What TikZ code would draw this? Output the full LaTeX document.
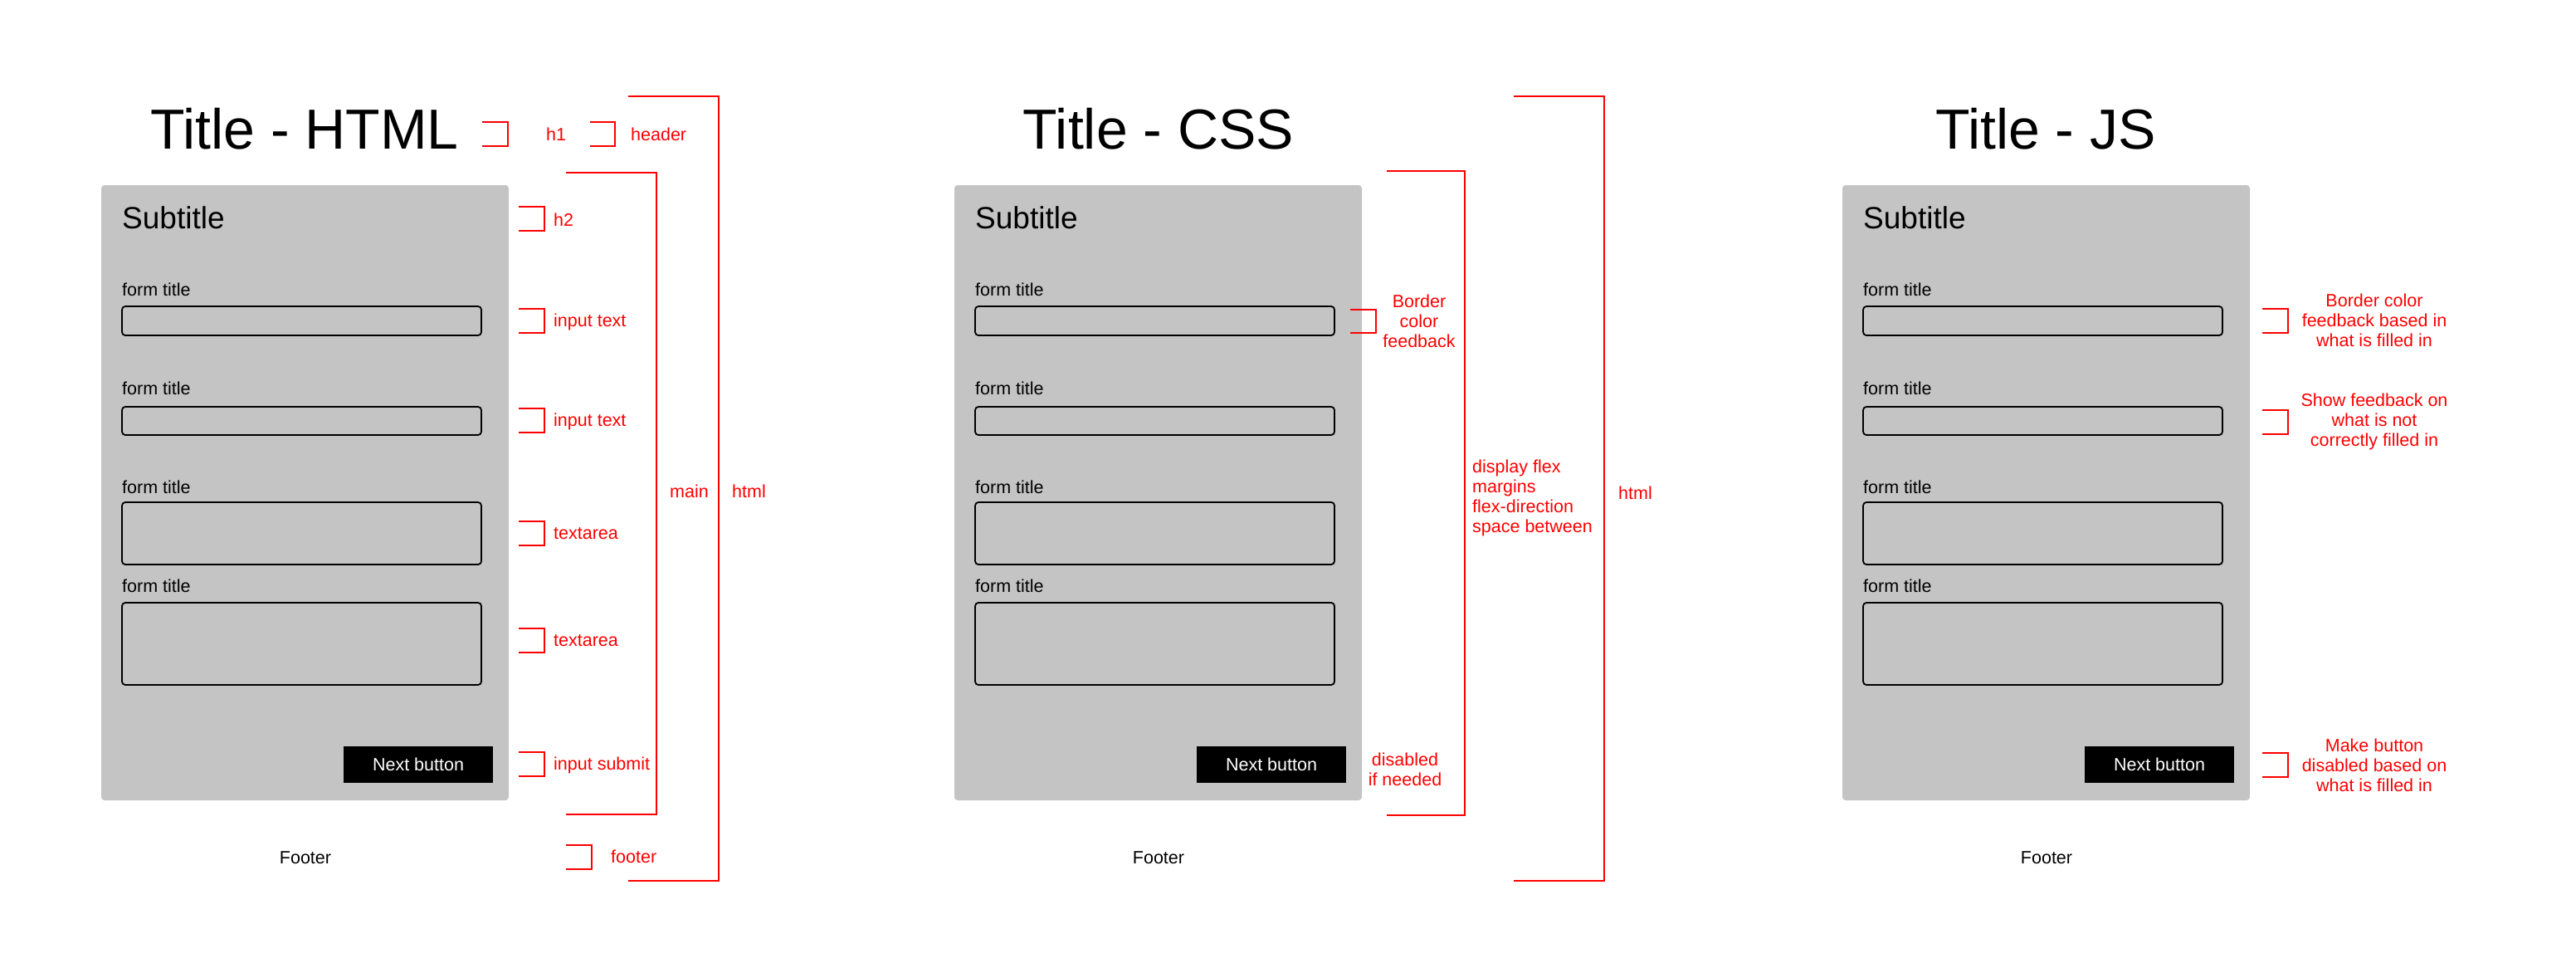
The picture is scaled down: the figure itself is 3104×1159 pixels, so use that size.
\documentclass[tikz,border=0pt]{standalone}
\usepackage{fontspec}
\setmainfont{Liberation Sans}
\definecolor{markred}{HTML}{FF0000}
\definecolor{panelgray}{HTML}{C4C4C4}
\tikzset{
  panel/.style={fill=panelgray, rounded corners=4pt},
  field/.style={draw=black, line width=1.8pt, rounded corners=4pt},
  nextbtn/.style={fill=black, text=white, minimum width=180pt, minimum height=44pt,
    inner sep=0pt, font=\fontsize{21.5}{24}\selectfont},
  bigtitle/.style={font=\fontsize{68}{72}\selectfont, anchor=base, inner sep=0pt},
  subtitle/.style={font=\fontsize{37}{40}\selectfont, anchor=base west, inner sep=0pt},
  formlabel/.style={font=\fontsize{21.5}{24}\selectfont, anchor=base west, inner sep=0pt},
  footertext/.style={font=\fontsize{21.5}{24}\selectfont, inner sep=0pt},
  note/.style={text=markred, font=\fontsize{21.5}{24}\selectfont, inner sep=0pt},
  tag/.style={note, anchor=base west},
  redline/.style={draw=markred, line width=2.2pt},
}
% bracket: from x1 across to x2, down from y1 to y2, back to x1
\newcommand\tagbracket[4]{\draw[redline] (#1,#3) -| (#2,#4) -- (#1,#4);}
% one form mock-up; #1 = horizontal offset, #2 = name prefix
\newcommand\formmock[2]{%
  \begin{scope}[xshift=#1pt]
    \fill[panel] (122,223) rectangle (613,964);
    \node[subtitle] (#2sub) at (147,275) {Subtitle};
    \node[formlabel] (#2lab1) at (147,356) {form title};
    \draw[field] (147,369) rectangle (580,404);
    \node[formlabel] (#2lab2) at (147,475) {form title};
    \draw[field] (147,490) rectangle (580,524);
    \node[formlabel] (#2lab3) at (147,594) {form title};
    \draw[field] (147,605) rectangle (580,680);
    \node[formlabel] (#2lab4) at (147,713) {form title};
    \draw[field] (147,726) rectangle (580,825);
    \node[nextbtn] (#2btn) at (504,921) {Next button};
    \node[footertext] (#2foot) at (368,1033) {Footer};
  \end{scope}}
\begin{document}
\begin{tikzpicture}[x=1pt, y=-1pt]
\fill[white] (0,0) rectangle (3104,1159);
\path[use as bounding box] (0,0) rectangle (3104,1159);

% ---------- HTML ----------
\node[bigtitle] (htmltitle) at (367,179) {Title - HTML};
\formmock{0}{h}
\tagbracket{581}{612}{147}{176}
\node[tag] (h1tag) at (658,169) {h1};
\tagbracket{711}{741}{147}{176}
\node[tag] (headertag) at (760,169) {header};
\tagbracket{625}{656}{249}{278}
\node[tag] (h2tag) at (667,272) {h2};
\tagbracket{625}{656}{372}{401}
\node[tag] (in1tag) at (667,393) {input text};
\tagbracket{625}{656}{492}{521}
\node[tag] (in2tag) at (667,513) {input text};
\tagbracket{625}{656}{628}{657}
\node[tag] (ta1tag) at (667,649) {textarea};
\tagbracket{625}{656}{757}{786}
\node[tag] (ta2tag) at (667,778) {textarea};
\tagbracket{625}{656}{906}{935}
\node[tag] (subtag) at (667,927) {input submit};
\tagbracket{682}{713}{1018}{1047}
\node[tag] (foottag) at (736,1039) {footer};
\tagbracket{682}{791}{208}{981}
\node[tag] (maintag) at (807,599) {main};
\tagbracket{757}{866}{116}{1061}
\node[tag] (htmltag) at (882,599) {html};

% ---------- CSS ----------
\node[bigtitle] (csstitle) at (1396,179) {Title - CSS};
\formmock{1028}{c}
\tagbracket{1627}{1658}{373}{401}
\node[note, align=center] (cssborder) at (1710,387) {Border\\color\\feedback};
\node[note, align=center] (cssdisabled) at (1693,927) {disabled\\if needed};
\tagbracket{1671}{1765}{206}{982}
\node[note, align=left, anchor=west] (cssflex) at (1774,600)
  {display flex\\margins\\flex-direction\\space between};
\tagbracket{1824}{1933}{116}{1061}
\node[tag] (csshtml) at (1950,601) {html};

% ---------- JS ----------
\node[bigtitle] (jstitle) at (2465,179) {Title - JS};
\formmock{2098}{j}
\tagbracket{2726}{2757}{372}{401}
\node[note, align=center] (jsborder) at (2861,386)
  {Border color\\feedback based in\\what is filled in};
\tagbracket{2726}{2757}{494}{523}
\node[note, align=center] (jsshow) at (2861,508)
  {Show feedback on\\what is not\\correctly filled in};
\tagbracket{2726}{2757}{907}{936}
\node[note, align=center] (jsbutton) at (2861,922)
  {Make button\\disabled based on\\what is filled in};
\end{tikzpicture}
\end{document}
